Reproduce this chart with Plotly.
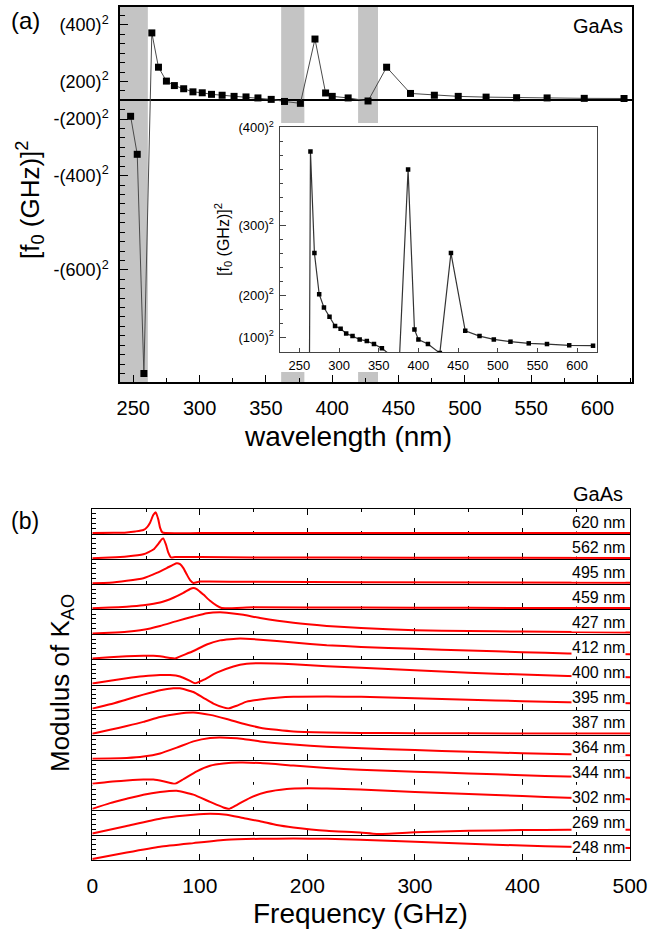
import plotly.graph_objects as go

W, H = 650, 940

# ---------------- Panel (a) data ----------------
wavelength_nm = [248, 253, 258, 264, 269, 275, 281, 288, 295, 302, 309, 317, 326, 335, 344,
                 354, 364, 376, 387, 395, 400, 412, 427, 441, 459, 477, 495, 516, 539, 562, 590, 620]
f0_squared = [-34000, -114700, -580000, 143000, 70200, 40700, 31200, 24500, 17900, 15900, 12600,
              10700, 8300, 7100, 5000, 1900, -2500, -6500, 130000, 15500, 8300, 5000, -1500,
              70200, 14500, 10700, 8300, 6700, 5500, 5000, 4100, 3800]

shaded_bands = [(240, 261), (361.5, 379), (419.5, 434.5)]

main_ytick_vals = [160000, 40000, -40000, -160000, -360000]
main_ytick_text = ["(400)<sup>2</sup>", "(200)<sup>2</sup>", "-(200)<sup>2</sup>",
                   "-(400)<sup>2</sup>", "-(600)<sup>2</sup>"]
inset_ytick_vals = [10000, 40000, 90000, 160000]
inset_ytick_text = ["(100)<sup>2</sup>", "(200)<sup>2</sup>", "(300)<sup>2</sup>", "(400)<sup>2</sup>"]
wl_ticks = [250, 300, 350, 400, 450, 500, 550, 600]

# ---------------- Panel (b) data (frequency GHz, modulus of K_AO, arb.) ----------------
k620_f = [0, 20, 32, 40, 47.5, 51, 53.7, 56.8, 59, 61.4, 63, 65.1, 68, 100, 200, 300, 400, 500]
k620_m = [0, 0.01, 0.03, 0.07, 0.13, 0.25, 0.43, 0.76, 0.86, 0.56, 0.23, 0.03, 0, 0, 0, 0, 0, 0]

k562_f = [0, 16, 32, 47.5, 56.8, 62, 64.5, 66, 68.5, 70.7, 73.2, 77, 100, 150, 300, 500]
k562_m = [0, 0.03, 0.07, 0.16, 0.36, 0.63, 0.78, 0.82, 0.56, 0.23, 0.03, 0.05, 0.05, 0.03, 0.02, 0.01]

k495_f = [0, 16, 32, 47.5, 59.9, 69.2, 75.4, 78.5, 81.6, 84.7, 87.8, 90.9, 94, 100, 150, 250, 500]
k495_m = [0, 0.02, 0.1, 0.21, 0.43, 0.63, 0.77, 0.83, 0.79, 0.63, 0.37, 0.13, 0.01, 0.07, 0.06, 0.04, 0.02]

k459_f = [0, 16, 32, 47.5, 63, 75.4, 84.7, 90.9, 94, 97.1, 103.3, 109.5, 115.7, 120.3, 150, 250, 350, 500]
k459_m = [0, 0.03, 0.07, 0.13, 0.24, 0.44, 0.64, 0.8, 0.84, 0.8, 0.57, 0.31, 0.11, 0.01, 0.04, 0.03, 0.02, 0.01]

k427_f = [0, 16, 32, 47.5, 63, 78.5, 94, 106.4, 118.8, 125, 140.5, 156, 187, 218, 250, 300, 350, 400, 450, 500]
k427_m = [0, 0.03, 0.07, 0.15, 0.31, 0.51, 0.7, 0.84, 0.88, 0.86, 0.77, 0.64, 0.44, 0.31, 0.22, 0.13, 0.1, 0.075, 0.055, 0.04]

k412_f = [0, 16, 32, 47.5, 56.8, 63, 72.3, 77, 84.7, 94, 106.4, 118.8, 128.1, 137.4, 156, 187, 218,
          250, 300, 350, 400, 442, 500]
k412_m = [0, 0.05, 0.09, 0.11, 0.11, 0.09, 0.02, 0, 0.14, 0.31, 0.58, 0.75, 0.8, 0.83, 0.78, 0.66, 0.55,
          0.48, 0.4, 0.33, 0.26, 0.21, 0.17]

k400_f = [0, 16.5, 32, 47.5, 63, 72.3, 81.6, 90.9, 95.5, 103.3, 115.7, 131.2, 143.6, 156, 187, 218,
          250, 300, 350, 400, 442, 500]
k400_m = [0, 0.12, 0.22, 0.3, 0.35, 0.35, 0.29, 0.11, 0.01, 0.15, 0.45, 0.71, 0.82, 0.84, 0.8, 0.72,
          0.66, 0.55, 0.45, 0.37, 0.31, 0.26]

k395_f = [0, 16.5, 32, 47.5, 63, 75.4, 81.6, 94, 103.3, 112.6, 121.9, 126.5, 134.3, 143.6, 156, 171.5,
          187, 218, 250, 300, 350, 400, 442, 500]
k395_m = [0, 0.18, 0.38, 0.58, 0.76, 0.84, 0.84, 0.69, 0.45, 0.21, 0.05, 0, 0.12, 0.29, 0.38, 0.45,
          0.49, 0.5, 0.49, 0.43, 0.37, 0.31, 0.26, 0.22]

k387_f = [0, 16.5, 32, 47.5, 63, 78.5, 94, 109.5, 125, 140.5, 156, 171.5, 187, 218, 249, 300, 400, 500]
k387_m = [0, 0.16, 0.32, 0.49, 0.69, 0.82, 0.88, 0.78, 0.61, 0.41, 0.25, 0.16, 0.09, 0.05, 0.03, 0.02, 0.01, 0.01]

k364_f = [0, 16.5, 32, 47.5, 63, 78.5, 94, 109.5, 118.8, 140.5, 156, 187, 218, 250, 300, 350, 400, 442, 500]
k364_m = [0, 0.01, 0.03, 0.09, 0.22, 0.46, 0.72, 0.86, 0.88, 0.82, 0.72, 0.59, 0.5, 0.44, 0.36, 0.29,
          0.23, 0.19, 0.15]

k344_f = [0, 16.5, 32, 47.5, 56.8, 66, 76.9, 84.7, 97.1, 109.5, 121.9, 137.4, 156, 187, 218, 249,
          300, 350, 400, 442, 500]
k344_m = [0, 0.09, 0.14, 0.18, 0.18, 0.11, 0, 0.19, 0.52, 0.75, 0.84, 0.88, 0.86, 0.76, 0.66, 0.58,
          0.5, 0.43, 0.36, 0.3, 0.25]

k302_f = [0, 16.5, 32, 47.5, 63, 78.5, 94, 109.5, 121.9, 127.4, 134.3, 146.7, 162.2, 180.8, 199.4,
          218, 249, 300, 350, 400, 442, 500]
k302_m = [0, 0.24, 0.42, 0.59, 0.7, 0.75, 0.59, 0.29, 0.06, 0, 0.16, 0.46, 0.7, 0.83, 0.86,
          0.85, 0.8, 0.7, 0.62, 0.53, 0.46, 0.4]

k269_f = [0, 32, 63, 78.5, 94, 109.5, 125, 140.5, 156, 171.5, 187, 218, 249, 264.5, 300, 350, 400, 442, 500]
k269_m = [0.02, 0.33, 0.63, 0.73, 0.8, 0.84, 0.8, 0.66, 0.53, 0.37, 0.27, 0.13, 0.06, 0, 0.07, 0.13,
          0.16, 0.17, 0.17]

k248_f = [0, 32, 63, 94, 125, 156, 187, 218, 249, 300, 350, 400, 442, 500]
k248_m = [0, 0.27, 0.51, 0.66, 0.8, 0.84, 0.85, 0.84, 0.8, 0.72, 0.63, 0.56, 0.51, 0.46]

stripe_labels = ["620 nm", "562 nm", "495 nm", "459 nm", "427 nm", "412 nm", "400 nm",
                 "395 nm", "387 nm", "364 nm", "344 nm", "302 nm", "269 nm", "248 nm"]
stripes = [(k620_f, k620_m), (k562_f, k562_m), (k495_f, k495_m), (k459_f, k459_m),
           (k427_f, k427_m), (k412_f, k412_m), (k400_f, k400_m), (k395_f, k395_m),
           (k387_f, k387_m), (k364_f, k364_m), (k344_f, k344_m), (k302_f, k302_m),
           (k269_f, k269_m), (k248_f, k248_m)]
freq_ticks = [0, 100, 200, 300, 400, 500]

# ---------------- helpers ----------------
def px(p):
    return p / W


def py(p):
    return 1 - p / H


FONT = 'Arial, "Liberation Sans", sans-serif'

fig = go.Figure()

# main panel (a)
fig.add_trace(go.Scatter(x=wavelength_nm, y=f0_squared, mode="lines+markers",
                         line=dict(color="#4a4a4a", width=1),
                         marker=dict(symbol="square", size=7, color="black"),
                         xaxis="x", yaxis="y", showlegend=False))
# inset
fig.add_trace(go.Scatter(x=wavelength_nm, y=f0_squared, mode="lines+markers",
                         line=dict(color="#333333", width=1.2),
                         marker=dict(symbol="square", size=4.5, color="black"),
                         xaxis="x2", yaxis="y2", showlegend=False))

layout = dict(
    width=W, height=H, margin=dict(l=0, r=0, t=0, b=0, autoexpand=False), autosize=False,
    paper_bgcolor="white", plot_bgcolor="white",
    font=dict(family=FONT, color="black"), showlegend=False,
)

main_top, main_bot = 7, 382
layout["xaxis"] = dict(domain=[px(120), px(632)], range=[240, 626], anchor="y", automargin=False,
                       showline=True, linecolor="black", linewidth=1.5, mirror=True,
                       ticks="inside", ticklen=7, tickwidth=1.2, tickcolor="black",
                       tickvals=wl_ticks, tickfont=dict(size=20),
                       minor=dict(ticks="inside", ticklen=4, dtick=25, tick0=250, tickcolor="black"),
                       showgrid=False, zeroline=False, ticklabelstandoff=7)
layout["yaxis"] = dict(domain=[py(main_bot), py(main_top)], range=[-598000, 198000], anchor="x",
                       automargin=False,
                       showline=True, linecolor="black", linewidth=1.5, mirror=True,
                       ticks="inside", ticklen=8, tickwidth=1.2, tickcolor="black",
                       tickvals=main_ytick_vals, ticktext=main_ytick_text, tickfont=dict(size=18),
                       minor=dict(ticks="inside", ticklen=5, dtick=20000, tick0=0, tickcolor="black"),
                       showgrid=False, zeroline=True, zerolinecolor="black", zerolinewidth=1.5,
                       ticklabelstandoff=6)

# inset axes
layout["xaxis2"] = dict(domain=[px(279.5), px(597)], range=[225, 625], anchor="y2", automargin=False,
                        showline=True, linecolor="#444444", linewidth=1.2, mirror=True,
                        ticks="inside", ticklen=4, tickcolor="#444444",
                        tickvals=wl_ticks, tickfont=dict(size=13),
                        showgrid=False, zeroline=False, ticklabelstandoff=1)
layout["yaxis2"] = dict(domain=[py(352), py(127)], range=[-700, 160500], anchor="x2", automargin=False,
                        showline=True, linecolor="#444444", linewidth=1.2, mirror=True,
                        ticks="inside", ticklen=6, tickcolor="#444444",
                        tickvals=inset_ytick_vals, ticktext=inset_ytick_text, tickfont=dict(size=13),
                        minor=dict(ticks="inside", ticklen=3, dtick=10000, tick0=0, tickcolor="#444444"),
                        showgrid=False, zeroline=False, ticklabelstandoff=2)

# gray bands (split where the inset covers them)
shapes = []
frac_inset_top = (main_bot - 123) / (main_bot - main_top)
frac_inset_bot = (main_bot - 372) / (main_bot - main_top)
for i, (x0, x1) in enumerate(shaded_bands):
    if i == 0:
        shapes.append(dict(type="rect", xref="x", yref="y domain", x0=x0, x1=x1, y0=0, y1=1,
                           fillcolor="#c4c4c4", line=dict(width=0), layer="below"))
    else:
        shapes.append(dict(type="rect", xref="x", yref="y domain", x0=x0, x1=x1,
                           y0=frac_inset_top, y1=1, fillcolor="#c4c4c4", line=dict(width=0), layer="below"))
        shapes.append(dict(type="rect", xref="x", yref="y domain", x0=x0, x1=x1,
                           y0=0, y1=frac_inset_bot, fillcolor="#c4c4c4", line=dict(width=0), layer="below"))

# panel (b) stripes
b_top, b_bot = 509, 860
n = len(stripes)
sh = (b_bot - b_top) / n
annotations = []
for i, ((f, m), lab) in enumerate(zip(stripes, stripe_labels)):
    k = i + 3
    kt = k + 20  # top-side tick axis
    top = b_top + i * sh
    bot = top + sh
    first = (i == 0)
    last = (i == n - 1)
    fig.add_trace(go.Scatter(x=f, y=m, mode="lines",
                             line=dict(color="#ff0000", width=2, shape="spline", smoothing=0.5),
                             xaxis=f"x{k}", yaxis=f"y{k}", showlegend=False))
    layout[f"xaxis{k}"] = dict(domain=[px(92.3), px(630)], range=[0, 500], anchor=f"y{k}",
                               automargin=False,
                               showline=True, linecolor="black", linewidth=1.1,
                               mirror=("ticks" if first else False),
                               ticks="inside", ticklen=6, tickwidth=1.2, tickcolor="black",
                               tickvals=freq_ticks, showticklabels=last, tickfont=dict(size=21),
                               minor=dict(ticks="inside", ticklen=3, dtick=50, tick0=0, tickcolor="black"),
                               showgrid=False, zeroline=False, layer="below traces",
                               ticklabelstandoff=7)
    if not first:
        layout[f"xaxis{kt}"] = dict(overlaying=f"x{k}", side="top", anchor=f"y{k}", range=[0, 500],
                                    automargin=False,
                                    showline=False, ticks="inside", ticklen=6, tickwidth=1.2,
                                    tickcolor="black", tickvals=freq_ticks, showticklabels=False,
                                    minor=dict(ticks="inside", ticklen=3, dtick=50, tick0=0, tickcolor="black"),
                                    showgrid=False, zeroline=False, layer="below traces")
    layout[f"yaxis{k}"] = dict(domain=[py(bot), py(top)], range=[-0.04, 1.0], anchor=f"x{k}",
                               automargin=False,
                               showline=True, linecolor="black", linewidth=1.3, mirror=True,
                               ticks="inside", ticklen=4, tickcolor="black",
                               tickvals=[0.2, 0.4, 0.6, 0.8], showticklabels=False,
                               showgrid=False, zeroline=False, layer="below traces")
    annotations.append(dict(text=lab, xref="paper", yref="paper", x=px(626), y=py((top + bot) / 2 + 0.5),
                            xanchor="right", yanchor="middle", showarrow=False,
                            font=dict(size=16, family=FONT, color="black"),
                            bgcolor="white", borderpad=0))


def ann(text, x, y, size, angle=0, xanchor="center"):
    annotations.append(dict(text=text, xref="paper", yref="paper", x=px(x), y=py(y),
                            xanchor=xanchor, yanchor="middle", showarrow=False, textangle=angle,
                            font=dict(size=size, family=FONT, color="black")))


ann("(a)", 25, 20, 24)
ann("GaAs", 625, 26, 20, xanchor="right")
ann("[f<sub>0</sub> (GHz)]<sup>2</sup>", 30, 200, 26, angle=-90)
ann("wavelength (nm)", 348, 437, 28)
ann("[f<sub>0</sub> (GHz)]<sup>2</sup>", 223, 240, 16, angle=-90)
ann("(b)", 25, 521, 23)
ann("GaAs", 625, 494, 20, xanchor="right")
ann("Modulus of K<sub>AO</sub>", 61, 683, 26, angle=-90)
ann("Frequency (GHz)", 360, 913, 28)

layout["shapes"] = shapes
layout["annotations"] = annotations
fig.update_layout(**layout)

# The page body gets no margin so the 650x940 figure fills the window exactly.
post = ("document.body.style.margin='0';document.body.style.padding='0';"
        "document.body.style.overflow='hidden';")
fig.write_html("out.html", post_script=post,
               config={"responsive": False, "displayModeBar": False})
